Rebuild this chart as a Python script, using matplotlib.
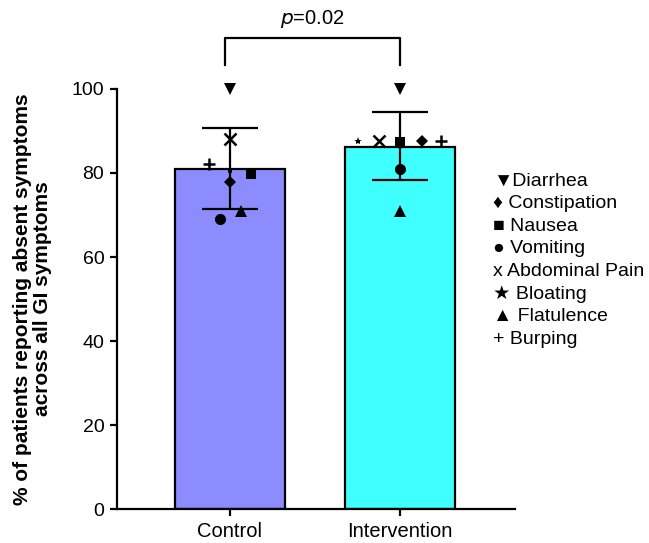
import matplotlib.pyplot as plt

plt.rcParams["font.family"] = ["Liberation Sans", "DejaVu Sans"]

groups = ["Control", "Intervention"]
bar_means = [81.0, 86.3]
err_low = [71.4, 78.3]
err_high = [90.8, 94.5]
bar_colors = ["#8C8CFF", "#40FFFF"]

symptoms = ["Diarrhea", "Constipation", "Nausea", "Vomiting",
            "Abdominal Pain", "Bloating", "Flatulence", "Burping"]
control_vals = [100.0, 77.8, 79.8, 69.0, 88.1, 80.8, 70.9, 82.1]
intervention_vals = [100.0, 87.6, 87.4, 81.0, 87.6, 87.6, 71.0, 87.6]
legend_chars = ["\u25BC", "\u2666", "\u25A0", "\u25CF", "x", "\u2605", "\u25B2", "+"]
p_text = "$p$=0.02"

# marker shapes and horizontal jitter (layout only)
markers = ["v", "D", "s", "o", "x", "*", "^", "+"]
msizes = [8, 6, 7, 8, 8, 6, 8, 8]
jitter_control = [0, 0, 0.124, -0.06, 0, 0, 0.063, -0.124]
jitter_interv = [0, 0.128, 0, 0, -0.124, -0.247, 0, 0.245]

fig = plt.figure(figsize=(6.49, 5.43), dpi=100)
ax = fig.add_axes([0.180, 0.0626, 0.613, 0.7735])

x = range(len(groups))
ax.bar(x, bar_means, width=0.647, color=bar_colors, edgecolor="black",
       linewidth=1.6, zorder=1)
for i in x:
    ax.errorbar(i, bar_means[i],
                yerr=[[bar_means[i] - err_low[i]], [err_high[i] - bar_means[i]]],
                fmt="none", ecolor="black", elinewidth=1.6, capsize=20,
                capthick=1.6, zorder=2)

for vals, jit, gx in [(control_vals, jitter_control, 0), (intervention_vals, jitter_interv, 1)]:
    for v, j, m, s in zip(vals, jit, markers, msizes):
        mew = 1.8 if m in ("x", "+") else 0
        ax.plot(gx + j, v, marker=m, color="black", markersize=s,
                markeredgewidth=mew, linestyle="none", zorder=3, clip_on=False)

ax.set_xlim(-0.665, 1.676)
ax.set_ylim(0, 100)
ax.set_yticks([0, 20, 40, 60, 80, 100])
ax.set_xticks(list(x))
ax.set_xticklabels(groups, fontsize=14.5)
ax.tick_params(axis="y", labelsize=14, width=1.6, length=5, pad=4)
ax.tick_params(axis="x", width=1.6, length=5, pad=4)
for side in ["top", "right"]:
    ax.spines[side].set_visible(False)
for side in ["left", "bottom"]:
    ax.spines[side].set_linewidth(1.6)

ax.set_ylabel("% of patients reporting absent symptoms\nacross all GI symptoms",
              fontsize=15, fontweight="bold", linespacing=1.05)
ax.yaxis.set_label_coords(-0.163, 0.5)

# significance bracket
ax.plot([-0.03, -0.03, 1.0, 1.0], [105.7, 112.1, 112.1, 105.7],
        color="black", linewidth=1.6, clip_on=False)
ax.text(0.485, 114.0, p_text, ha="center", va="bottom", fontsize=14.5)

# text legend
for k, (ch, name) in enumerate(zip(legend_chars, symptoms)):
    label = ch + name if k == 0 else ch + " " + name
    fig.text(0.760, 1 - (181 + 22.6 * k) / 543, label,
             fontsize=14, va="center", ha="left")

fig.savefig("out.png", dpi=100)
